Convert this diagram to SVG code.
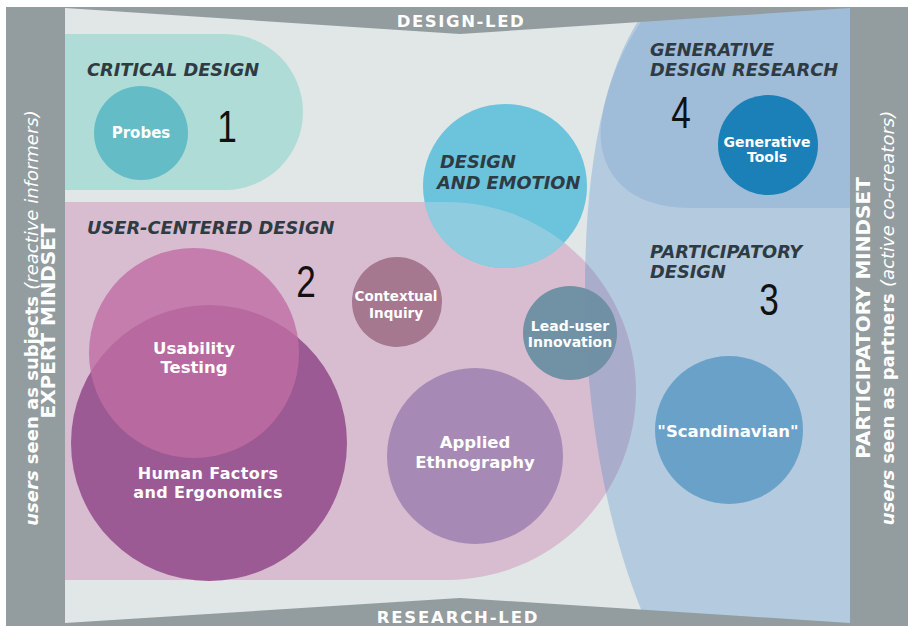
<svg xmlns="http://www.w3.org/2000/svg" width="908" height="626" viewBox="0 0 908 626">
<style>
.hd{font-family:"DejaVu Sans","Liberation Sans",sans-serif;font-weight:bold;font-style:italic;font-size:17.8px;fill:#2e3b43}
.cl{font-family:"DejaVu Sans","Liberation Sans",sans-serif;font-weight:bold;fill:#ffffff;text-anchor:middle}
.num{font-family:"Liberation Sans",Arial,sans-serif;font-size:44px;fill:#111111;text-anchor:middle}
.band{font-family:"DejaVu Sans","Liberation Sans",sans-serif;font-weight:bold;font-size:16.5px;fill:#ffffff;text-anchor:middle}
.side{font-family:"DejaVu Sans","Liberation Sans",sans-serif;fill:#ffffff;text-anchor:middle}
</style>
<defs>
<clipPath id="clipPink">
<rect x="65" y="202" width="382" height="378"/>
<circle cx="447" cy="391" r="189"/>
</clipPath>
</defs>
<rect width="908" height="626" fill="#ffffff"/>
<rect x="65" y="7" width="785" height="619" fill="#e1e6e6"/>

<g id="critical-design">
<path d="M65 34 H225 A78 78 0 0 1 225 190 H65 Z" fill="#afdcd6"/>
<text class="hd" x="87" y="76">CRITICAL DESIGN</text>
<text class="num" transform="translate(227,142) scale(0.8,1)">1</text>
</g>

<g id="participatory-design">
<path d="M648 7 C606 60 585 160 585 290 C585 420 610 540 648 626 L850 626 L850 7 Z" fill="#b3cadf"/>
</g>

<g id="generative-design-research">
<path d="M652 7 C625 40 606 85 601 125 C597 170 625 208 690 208 L850 208 L850 7 Z" fill="#9fbcd8"/>
</g>

<g id="user-centered-design">
<rect x="65" y="202" width="382" height="378" fill="#d8bdd0"/>
<circle cx="447" cy="391" r="189" fill="#d8bdd0"/>
<path d="M648 7 C606 60 585 160 585 290 C585 420 610 540 648 626 L850 626 L850 7 Z" fill="#a9accb" clip-path="url(#clipPink)"/>
<text class="hd" x="87" y="234">USER-CENTERED DESIGN</text>
<text class="num" transform="translate(306,297) scale(0.8,1)">2</text>
</g>

<g id="design-and-emotion">
<circle cx="505" cy="186" r="82" fill="#6cc3dc"/>
<circle cx="505" cy="186" r="82" fill="#8fcce0" clip-path="url(#clipPink)"/>
<text class="hd" x="440" y="168">DESIGN</text>
<text class="hd" x="437" y="189">AND EMOTION</text>
</g>

<g id="participatory-labels">
<text class="hd" x="650" y="258">PARTICIPATORY</text>
<text class="hd" x="650" y="278">DESIGN</text>
<text class="num" transform="translate(769,315) scale(0.8,1)">3</text>
</g>

<g id="generative-labels">
<text class="hd" x="650" y="56">GENERATIVE</text>
<text class="hd" x="650" y="76">DESIGN RESEARCH</text>
<text class="num" transform="translate(681,128) scale(0.8,1)">4</text>
</g>

<g id="probes">
<circle cx="141" cy="133" r="47" fill="#63bcc6"/>
<text class="cl" x="141" y="138" font-size="15">Probes</text>
</g>

<g id="human-factors">
<circle cx="209" cy="443" r="138" fill="#9c5a94"/>
<text class="cl" x="208" y="479" font-size="16" letter-spacing="0.4">Human Factors</text>
<text class="cl" x="208" y="498" font-size="16" letter-spacing="0.4">and Ergonomics</text>
</g>

<g id="usability-testing">
<circle cx="194" cy="353" r="105" fill="rgb(191,109,162)" fill-opacity="0.8"/>
<text class="cl" x="194" y="354" font-size="16.5">Usability</text>
<text class="cl" x="194" y="373" font-size="16.5">Testing</text>
</g>

<g id="contextual-inquiry">
<circle cx="397" cy="302" r="45" fill="#a5788f"/>
<text class="cl" x="396" y="301" font-size="13.5">Contextual</text>
<text class="cl" x="396" y="318" font-size="13.5">Inquiry</text>
</g>

<g id="lead-user-innovation">
<circle cx="570" cy="333" r="47" fill="#6b8ea2" fill-opacity="0.95"/>
<text class="cl" x="570" y="331" font-size="14">Lead-user</text>
<text class="cl" x="570" y="347" font-size="14">Innovation</text>
</g>

<g id="applied-ethnography">
<circle cx="475" cy="456" r="88" fill="#a789b5"/>
<text class="cl" x="475" y="448" font-size="16.5">Applied</text>
<text class="cl" x="475" y="468" font-size="16.5">Ethnography</text>
</g>

<g id="scandinavian">
<circle cx="729" cy="430" r="74" fill="#6aa1c9"/>
<text class="cl" x="728" y="437" font-size="16.5">"Scandinavian"</text>
</g>

<g id="generative-tools">
<circle cx="768" cy="145" r="50" fill="#1b80b7"/>
<text class="cl" x="767" y="147" font-size="14">Generative</text>
<text class="cl" x="767" y="162" font-size="14">Tools</text>
</g>

<g id="design-led">
<polygon points="65,7 850,7 850,8 460,34 65,8" fill="#939c9e"/>
<text class="band" x="461" y="27" letter-spacing="1.6">DESIGN-LED</text>
</g>

<g id="research-led">
<polygon points="65,626 65,623 460,598 850,623 850,626" fill="#939c9e"/>
<text class="band" x="458" y="623" letter-spacing="1.8">RESEARCH-LED</text>
</g>

<g id="expert-mindset">
<rect x="6" y="7" width="59" height="619" fill="#939c9e"/>
<text class="side" transform="translate(38,318) rotate(-90)" font-size="18"><tspan font-weight="bold" font-style="italic">users</tspan><tspan font-weight="bold"> seen as subjects </tspan><tspan font-style="italic">(reactive informers)</tspan></text>
<text class="side" transform="translate(55,321) rotate(-90)" font-size="20" font-weight="bold">EXPERT MINDSET</text>
</g>

<g id="participatory-mindset">
<rect x="850" y="7" width="58" height="619" fill="#939c9e"/>
<text class="side" transform="translate(870,318) rotate(-90)" font-size="20" font-weight="bold">PARTICIPATORY MINDSET</text>
<text class="side" transform="translate(894,318) rotate(-90)" font-size="18"><tspan font-weight="bold" font-style="italic">users</tspan><tspan font-weight="bold"> seen as partners </tspan><tspan font-style="italic">(active co-creators)</tspan></text>
</g>
</svg>
